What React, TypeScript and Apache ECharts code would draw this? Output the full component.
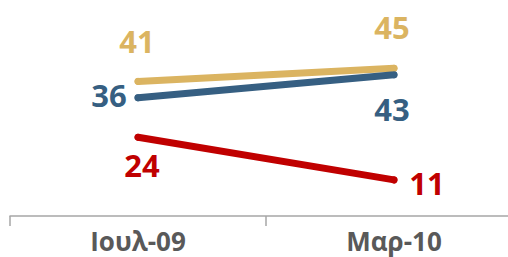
import React, { useEffect, useRef } from "react";
import * as echarts from "echarts";

const categories = ["Ιουλ-09", "Μαρ-10"];
const goldValues = [41, 45];
const blueValues = [36, 43];
const redValues = [24, 11];

const goldOffsets = [[-1, -40], [-2, -41]];
const blueOffsets = [[-29, -3], [-2, 34]];
const redOffsets = [[4, 28], [33, 3]];

function mkSeries(name: string, values: number[], color: string, offsets: number[][]) {
  return {
    name,
    type: "line",
    data: values.map((v, i) => ({
      value: v,
      label: { offset: offsets[i] },
    })),
    symbol: "circle",
    symbolSize: 7,
    showSymbol: true,
    itemStyle: { color },
    lineStyle: { color, width: 7, cap: "round" },
    label: {
      show: true,
      position: "inside",
      align: "center",
      verticalAlign: "middle",
      color,
      fontFamily: "Open Sans",
      fontWeight: "bold",
      fontSize: 31,
    },
    z: 2,
  };
}

export default function App() {
  const ref = useRef<HTMLDivElement>(null);
  useEffect(() => {
    if (!ref.current) return;
    const chart = echarts.init(ref.current, undefined, { renderer: "svg" });
    chart.setOption({
      animation: false,
      grid: {
        left: 10,
        width: 512,
        top: 19,
        bottom: 41,
        containLabel: false,
        outerBoundsMode: "none",
      },
      xAxis: {
        type: "category",
        data: categories,
        boundaryGap: true,
        axisLine: { show: true, lineStyle: { color: "#A6A6A6", width: 1.5 } },
        axisTick: { show: true, length: 10, lineStyle: { color: "#A6A6A6", width: 1.5 } },
        axisLabel: {
          margin: 12,
          color: "#595959",
          fontFamily: "Open Sans",
          fontWeight: "bold",
          fontSize: 26,
          lineHeight: 26,
        },
      },
      yAxis: { type: "value", min: 0, max: 60, show: false },
      series: [
        mkSeries("Series 1", goldValues, "#DBB461", goldOffsets),
        mkSeries("Series 2", blueValues, "#365F82", blueOffsets),
        mkSeries("Series 3", redValues, "#C00000", redOffsets),
      ],
    });
    return () => chart.dispose();
  }, []);
  return (
    <div
      ref={ref}
      style={{ position: "absolute", left: 0, top: 0, width: 508, height: 257 }}
    />
  );
}
